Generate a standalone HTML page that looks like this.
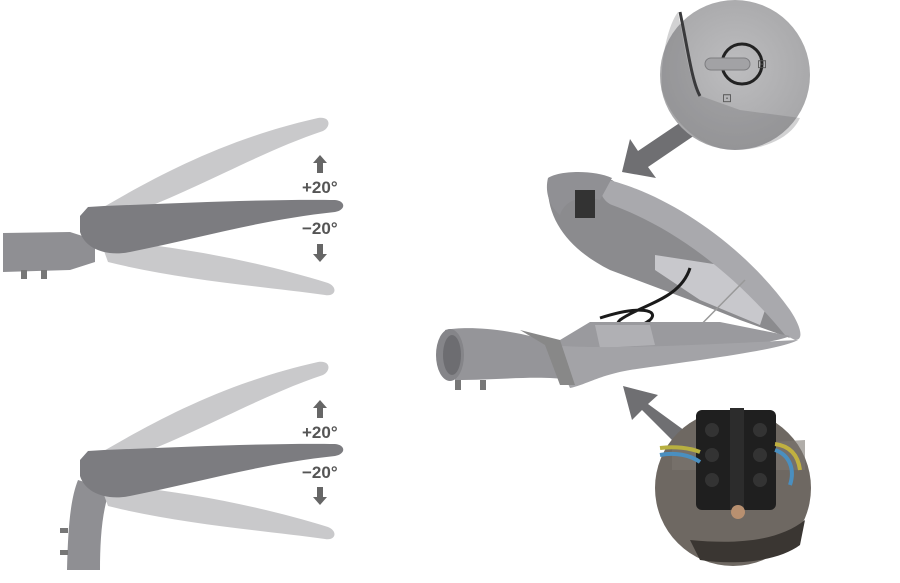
<!DOCTYPE html>
<html><head><meta charset="utf-8"><style>
html,body{margin:0;padding:0;background:#fff;width:900px;height:583px;overflow:hidden}
svg{display:block}
text{font-family:"Liberation Sans",sans-serif;font-weight:bold;fill:#555;font-size:17px}
</style></head><body>
<svg width="900" height="583" viewBox="0 0 900 583" xmlns="http://www.w3.org/2000/svg">
<defs>
<radialGradient id="g1" cx="50%" cy="45%" r="60%"><stop offset="0" stop-color="#bdbdbf"/><stop offset="1" stop-color="#a5a5a7"/></radialGradient>
<g id="blades">
  <path d="M95,212 C150,180 220,140 318,118 C331,116 331,127 323,131 C260,152 200,188 125,216 Z" fill="#c9c9cb"/>
  <path d="M100,240 C180,246 260,262 328,283 C338,287 336,297 325,295 C260,286 180,280 108,262 Z" fill="#c9c9cb"/>
  <path d="M80,216 L88,207 L104,206 C180,203 270,199 335,200 C346,201 346,210 335,212 C260,220 200,238 130,252 C105,257 85,248 80,232 Z" fill="#7c7c80"/>
</g>
</defs>

<path d="M3,233 L70,232 L95,240 L95,262 L70,270 L3,272 Z" fill="#8f8f93"/>
<rect x="21" y="270" width="6" height="9" fill="#777"/>
<rect x="41" y="270" width="6" height="9" fill="#777"/>
<use href="#blades"/>
<path d="M320,155 L327,163 L323,163 L323,173 L317,173 L317,163 L313,163 Z" fill="#666"/>
<text x="302" y="193">+20°</text>
<text x="302" y="234">−20°</text>
<path d="M320,262 L327,254 L323,254 L323,244 L317,244 L317,254 L313,254 Z" fill="#666"/>

<path d="M78,480 C70,500 68,530 67,570 L100,570 C100,540 102,510 110,490 Z" fill="#8f8f93"/>
<rect x="60" y="528" width="8" height="5" fill="#777"/>
<rect x="60" y="550" width="8" height="5" fill="#777"/>
<g transform="translate(0,244)"><use href="#blades"/></g>
<path d="M320,400 L327,408 L323,408 L323,418 L317,418 L317,408 L313,408 Z" fill="#666"/>
<text x="302" y="438">+20°</text>
<text x="302" y="478">−20°</text>
<path d="M320,505 L327,497 L323,497 L323,487 L317,487 L317,497 L313,497 Z" fill="#666"/>

<path d="M548,180 C545,220 570,250 610,270 L690,300 L740,320 L790,338 L700,240 L612,180 Z" fill="#8b8b8e"/>
<path d="M655,255 L720,265 L765,310 L760,325 L700,300 L655,270 Z" fill="#c8c8cc"/>
<path d="M600,178 C660,190 740,240 790,310 C800,325 805,340 795,340 L785,335 C740,280 680,230 612,205 C600,200 598,185 600,178 Z" fill="#a9a9ad"/>
<path d="M548,178 C560,170 595,170 612,178 L600,200 C580,195 565,200 560,215 C548,205 545,190 548,178 Z" fill="#909094"/>
<rect x="575" y="190" width="20" height="28" fill="#333"/>
<path d="M690,268 C680,300 640,305 620,320 C610,330 630,335 650,320 C660,310 640,305 600,318" fill="none" stroke="#1a1a1a" stroke-width="3"/>
<line x1="745" y1="280" x2="683" y2="343" stroke="#999" stroke-width="1.5"/>
<path d="M560,340 L590,322 L720,322 L790,336 C770,345 700,350 640,355 C600,360 580,375 570,385 L550,370 Z" fill="#9a9a9e"/>
<path d="M595,325 L650,325 L655,345 L600,348 Z" fill="#b0b0b4"/>
<path d="M550,345 C600,350 700,345 798,340 C780,350 700,360 630,370 C600,375 585,385 570,388 Z" fill="#a3a3a7"/>
<path d="M445,330 C470,325 520,330 560,345 L570,380 C540,375 500,380 455,380 Z" fill="#959599"/>
<ellipse cx="450" cy="355" rx="14" ry="26" fill="#858589"/>
<ellipse cx="452" cy="355" rx="9" ry="20" fill="#6d6d71"/>
<rect x="455" y="380" width="6" height="10" fill="#777"/>
<rect x="480" y="380" width="6" height="10" fill="#777"/>
<path d="M520,330 L560,340 L575,385 L560,385 L545,345 Z" fill="#888"/>

<path d="M684,120 L695,135 L648,167 L656,178 L622,172 L630,139 L638,151 Z" fill="#6f6f72"/>
<path d="M692,436 L680,448 L642,410 L632,420 L623,386 L658,395 L648,404 Z" fill="#6f6f72"/>

<circle cx="735" cy="75" r="75" fill="url(#g1)"/>
<path d="M678,12 C685,50 690,80 698,95 L740,110 L800,118 C790,140 760,150 735,150 C700,150 670,120 662,90 C660,60 668,25 678,12 Z" fill="#6a6a6d" opacity="0.3"/>
<path d="M680,12 C688,50 692,82 700,96" fill="none" stroke="#3a3a3c" stroke-width="3"/>
<circle cx="742" cy="64" r="20" fill="none" stroke="#222" stroke-width="3"/>
<rect x="705" y="58" width="45" height="12" rx="6" fill="#a2a2a5" stroke="#7d7d80"/>
<text x="757" y="68" style="font-size:12px;font-weight:normal;fill:#555">⊡</text>
<text x="722" y="102" style="font-size:12px;font-weight:normal;fill:#555">⊡</text>

<circle cx="733" cy="488" r="78" fill="#6e6862"/>
<path d="M672,448 L805,440 L805,470 L672,470 Z" fill="#7c7670" opacity="0.6"/>
<rect x="696" y="410" width="80" height="100" rx="6" fill="#1f1f1f"/>
<rect x="730" y="408" width="14" height="102" fill="#2c2c2c"/>
<circle cx="712" cy="430" r="7" fill="#333"/><circle cx="712" cy="455" r="7" fill="#333"/><circle cx="712" cy="480" r="7" fill="#333"/>
<circle cx="760" cy="430" r="7" fill="#333"/><circle cx="760" cy="455" r="7" fill="#333"/><circle cx="760" cy="480" r="7" fill="#333"/>
<circle cx="738" cy="512" r="7" fill="#b89070"/>
<path d="M660,455 C675,452 690,455 700,462" stroke="#4a8fc0" stroke-width="4" fill="none"/>
<path d="M660,448 C675,446 690,448 700,452" stroke="#b8b040" stroke-width="4" fill="none"/>
<path d="M775,450 C790,455 795,470 790,485" stroke="#4a8fc0" stroke-width="4" fill="none"/>
<path d="M775,444 C790,446 798,455 800,470" stroke="#c0b040" stroke-width="4" fill="none"/>
<path d="M690,540 C740,545 780,540 805,520 L800,545 C780,560 740,566 700,560 Z" fill="#3a3632"/>
</svg>
</body></html>
